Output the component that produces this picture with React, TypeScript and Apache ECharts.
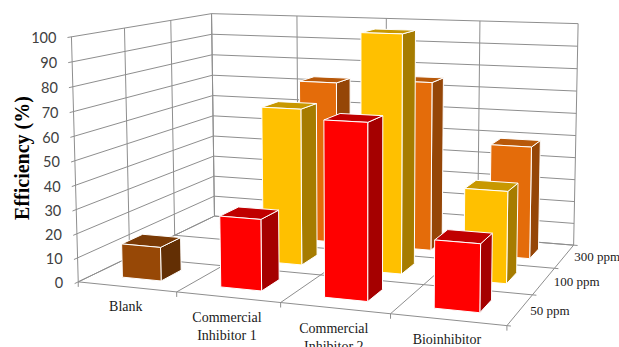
import React, { useEffect, useRef } from "react";
import * as echarts from "echarts";

const WIDTH = 619;
const HEIGHT = 347;

const categories = ["Blank", "Commercial\nInhibitor 1", "Commercial\nInhibitor 2", "Bioinhibitor"];
const depthLabels = ["50 ppm", "100 ppm", "300 ppm"];
const valueTicks = [0, 10, 20, 30, 40, 50, 60, 70, 80, 90, 100];
const boundaries = [0, 1, 2, 3, 4];

const ppm300 = [null, 73, 75, 49];
const ppm100 = [null, 67, 100, 38];
const ppm50 = [14, 29, 70, 26.5];

const rowColors = [
  { front: "#FF0000", side: "#A50000", top: "#C00000" },
  { front: "#FFC000", side: "#A67C00", top: "#C89800" },
  { front: "#E46C0A", side: "#954607", top: "#B8590A" },
];
const blankColor = { front: "#974806", side: "#632F04", top: "#7A3A05" };
const GRID = "#8E8E8E";

// Calibration of the 3D box: [x 0..1, value 0..1, depth 0..1, pixel x, pixel y]
const cameraPoints = [
  [0, 0, 0, 79, 281],
  [0.25, 0, 0, 177, 292],
  [0.5, 0, 0, 281, 303],
  [0.75, 0, 0, 390, 315.7],
  [1, 0, 0, 506.5, 326],
  [1, 0, 1 / 3, 533, 294],
  [1, 0, 2 / 3, 553, 267],
  [1, 0, 1, 575, 245],
  [0, 0, 1, 213.5, 216.5],
  [0, 1, 0, 71, 36],
  [0, 1, 1, 212, 14],
  [1, 1, 1, 578, 24],
];

function solve(a: number[][], b: number[]): number[] {
  const n = b.length;
  const m = a.map((r, i) => [...r, b[i]]);
  for (let c = 0; c < n; c++) {
    let piv = c;
    for (let r = c + 1; r < n; r++) if (Math.abs(m[r][c]) > Math.abs(m[piv][c])) piv = r;
    [m[c], m[piv]] = [m[piv], m[c]];
    for (let r = 0; r < n; r++) {
      if (r === c) continue;
      const f = m[r][c] / m[c][c];
      for (let k = c; k <= n; k++) m[r][k] -= f * m[c][k];
    }
  }
  return m.map((r, i) => r[n] / r[i]);
}

// Least-squares fit of a projective camera through the calibration points.
function fitCamera(): number[] {
  const rows: number[][] = [];
  const rhs: number[] = [];
  for (const [x, y, z, u, v] of cameraPoints) {
    rows.push([x, y, z, 1, 0, 0, 0, 0, -u * x, -u * y, -u * z]);
    rhs.push(u);
    rows.push([0, 0, 0, 0, x, y, z, 1, -v * x, -v * y, -v * z]);
    rhs.push(v);
  }
  const n = 11;
  const ata = Array.from({ length: n }, () => new Array(n).fill(0));
  const atb = new Array(n).fill(0);
  rows.forEach((r, k) => {
    for (let i = 0; i < n; i++) {
      atb[i] += r[i] * rhs[k];
      for (let j = 0; j < n; j++) ata[i][j] += r[i] * r[j];
    }
  });
  return solve(ata, atb);
}

const cam = fitCamera();

// Projects category-units x (0..4), value (0..100) and row-units depth (0..3).
function project(cx: number, val: number, d: number): number[] {
  const x = cx / categories.length;
  const y = val / 100;
  const z = d / depthLabels.length;
  const w = cam[8] * x + cam[9] * y + cam[10] * z + 1;
  return [
    (cam[0] * x + cam[1] * y + cam[2] * z + cam[3]) / w,
    (cam[4] * x + cam[5] * y + cam[6] * z + cam[7]) / w,
  ];
}

const line = (a: number[], b: number[], stroke = GRID) => ({
  type: "line",
  silent: true,
  shape: { x1: a[0], y1: a[1], x2: b[0], y2: b[1] },
  style: { stroke, lineWidth: 1 },
});

// Hidden axes supply the scales: pixels from api.coord go back to model units.
const toCategoryUnits = (px: number) => (px / WIDTH) * categories.length;
const toValue = (py: number) => ((HEIGHT - py) / HEIGHT) * 100;

const extend = (a: number[], b: number[], len: number) => {
  const dx = a[0] - b[0];
  const dy = a[1] - b[1];
  const l = Math.hypot(dx, dy);
  return [a[0] + (dx / l) * len, a[1] + (dy / l) * len];
};

const renderValueTick = (_: any, api: any) => {
  const val = toValue(api.coord([0, api.value(0)])[1]);
  const fl = project(0, val, 0);
  const bl = project(0, val, 3);
  const br = project(4, val, 3);
  const tip = extend(fl, bl, 4);
  return {
    type: "group",
    children: [
      line(tip, bl),
      line(bl, br),
      {
        type: "text",
        silent: true,
        style: {
          text: String(api.value(0)),
          x: fl[0] - 15,
          y: fl[1] + 1,
          fill: "#404040",
          font: "14.5px Lato",
          align: "right",
          verticalAlign: "middle",
        },
      },
    ],
  };
};

const renderCategoryBoundary = (_: any, api: any) => {
  const i = api.value(0);
  const a = project(i, 0, 0);
  const b = project(i, 0, 3);
  const top = project(i, 100, 3);
  const children: any[] = [line(a, b), line(b, top), line(a, [a[0], a[1] + 5])];
  return { type: "group", children };
};

const renderDepthBoundary = (_: any, api: any) => {
  const d = api.value(0);
  const l = project(0, 0, d);
  const r = project(4, 0, d);
  const top = project(0, 100, d);
  return {
    type: "group",
    children: [line(l, r), line(l, top), line(r, extend(r, l, 4))],
  };
};

const renderCategoryLabel = (params: any, api: any) => {
  const p = project(api.value(0) + 0.5, 0, 0);
  return {
    type: "text",
    silent: true,
    style: {
      text: categories[params.dataIndex],
      x: p[0] - 1,
      y: p[1] + 11,
      fill: "#1A1A1A",
      font: "14px 'Liberation Serif'",
      lineHeight: 18,
      align: "center",
      verticalAlign: "top",
    },
  };
};

const renderDepthLabel = (params: any, api: any) => {
  const p = project(4, 0, api.value(0) + 0.5);
  return {
    type: "text",
    silent: true,
    style: {
      text: depthLabels[params.dataIndex],
      x: p[0] + 10,
      y: p[1] + 0.5,
      fill: "#1A1A1A",
      font: "13px 'Liberation Serif'",
      align: "left",
      verticalAlign: "middle",
    },
  };
};

const BAR_W = 0.4;
const BAR_D = 0.42;

const barRenderer = (row: number) => (params: any, api: any) => {
  const raw = api.value(1);
  if (raw == null || Number.isNaN(raw)) return undefined;
  const [px, py] = api.coord([api.value(0), raw]);
  const cx = toCategoryUnits(px);
  const val = toValue(py);
  const x0 = cx - BAR_W / 2;
  const x1 = cx + BAR_W / 2;
  const z0 = row + 0.5 - BAR_D / 2;
  const z1 = row + 0.5 + BAR_D / 2;
  const colors = api.value(0) === 0 ? blankColor : rowColors[row];
  const face = (pts: number[][], fill: string) => ({
    type: "polygon",
    silent: true,
    shape: { points: pts },
    style: { fill, stroke: "#FFFFFF", lineWidth: 1, lineJoin: "round" },
  });
  return {
    type: "group",
    children: [
      face([project(x1, 0, z0), project(x1, 0, z1), project(x1, val, z1), project(x1, val, z0)], colors.side),
      face([project(x0, val, z0), project(x1, val, z0), project(x1, val, z1), project(x0, val, z1)], colors.top),
      face([project(x0, 0, z0), project(x1, 0, z0), project(x1, val, z0), project(x0, val, z0)], colors.front),
    ],
  };
};

const barSeries = (row: number, name: string, values: (number | null)[]) => ({
  type: "custom",
  name,
  renderItem: barRenderer(row),
  encode: { x: 0, y: 1 },
  data: values.map((v, i) => [i, v]),
});

const helper = (renderItem: any, data: number[]) => ({
  type: "custom",
  renderItem,
  silent: true,
  data: data.map((v) => [v]),
  encode: { x: 0 },
});

export default function App() {
  const ref = useRef<HTMLDivElement>(null);
  useEffect(() => {
    document.body.style.margin = "0";
    const chart = echarts.init(ref.current!, undefined, { renderer: "svg" });
    chart.setOption({
      animation: false,
      backgroundColor: "#FFFFFF",
      grid: { left: 0, top: 0, width: WIDTH, height: HEIGHT, show: false },
      xAxis: { type: "category", data: categories, show: false },
      yAxis: { type: "value", min: 0, max: 100, interval: 10, show: false },
      graphic: [
        {
          type: "text",
          silent: true,
          x: 22,
          y: 158,
          rotation: Math.PI / 2,
          style: {
            text: "Efficiency (%)",
            fill: "#000000",
            font: "bold 20px 'Liberation Serif'",
            align: "center",
            verticalAlign: "middle",
          },
        },
      ],
      series: [
        helper(renderValueTick, valueTicks),
        helper(renderCategoryBoundary, boundaries),
        helper(renderDepthBoundary, [0, 1, 2, 3]),
        helper(renderCategoryLabel, [0, 1, 2, 3]),
        helper(renderDepthLabel, [0, 1, 2]),
        barSeries(2, "300 ppm", ppm300),
        barSeries(1, "100 ppm", ppm100),
        barSeries(0, "50 ppm", ppm50),
      ],
    });
    return () => chart.dispose();
  }, []);
  return <div ref={ref} style={{ width: WIDTH, height: HEIGHT }} />;
}
